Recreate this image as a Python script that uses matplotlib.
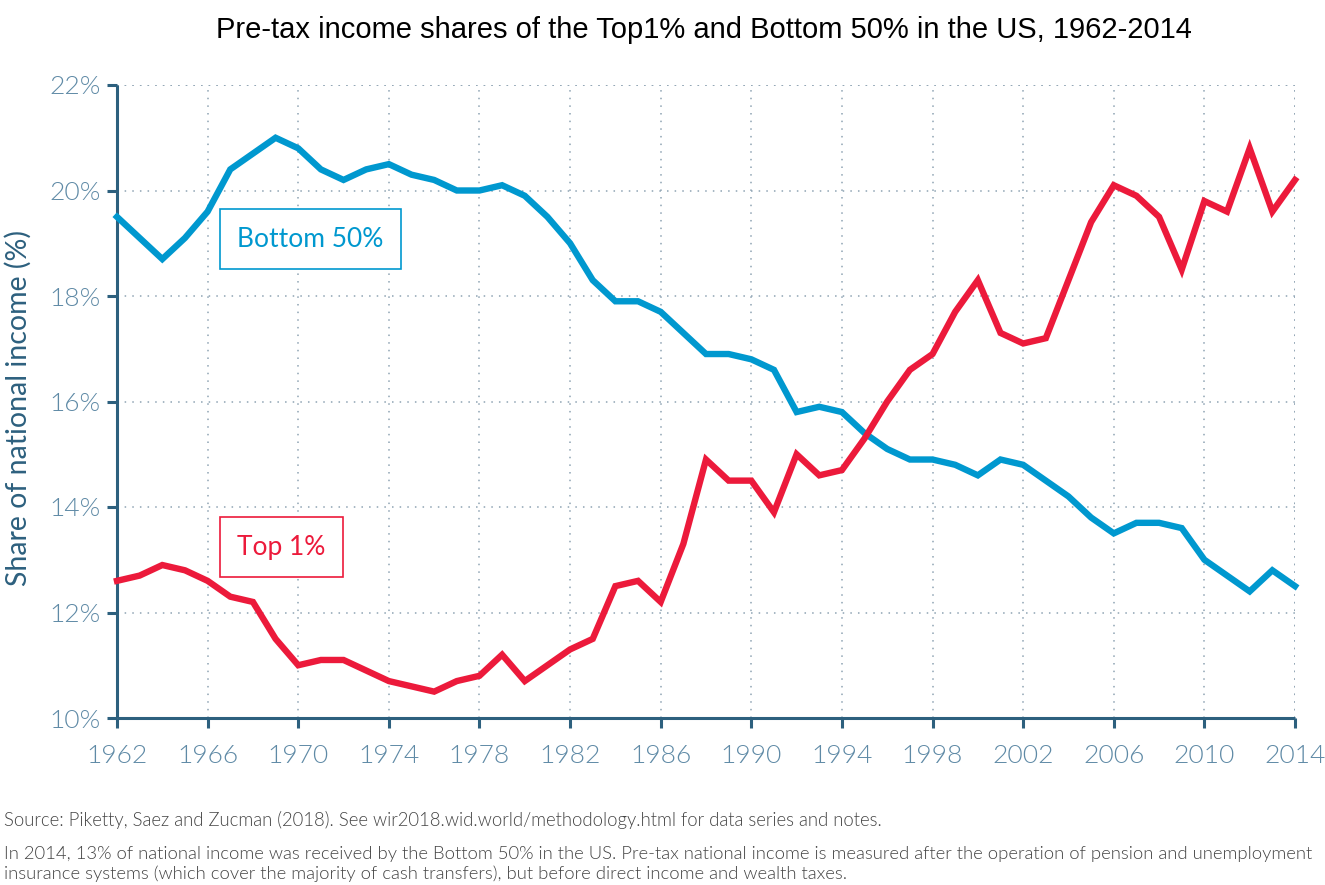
import matplotlib
matplotlib.use("Agg")
import matplotlib.pyplot as plt
from matplotlib.ticker import FuncFormatter

years = list(range(1962, 2015))
bottom50 = [19.5, 19.1, 18.7, 19.1, 19.6, 20.4, 20.7, 21.0, 20.8, 20.4,
            20.2, 20.4, 20.5, 20.3, 20.2, 20.0, 20.0, 20.1, 19.9, 19.5,
            19.0, 18.3, 17.9, 17.9, 17.7, 17.3, 16.9, 16.9, 16.8, 16.6,
            15.8, 15.9, 15.8, 15.4, 15.1, 14.9, 14.9, 14.8, 14.6, 14.9,
            14.8, 14.5, 14.2, 13.8, 13.5, 13.7, 13.7, 13.6, 13.0, 12.7,
            12.4, 12.8, 12.5]
top1 = [12.6, 12.7, 12.9, 12.8, 12.6, 12.3, 12.2, 11.5, 11.0, 11.1,
        11.1, 10.9, 10.7, 10.6, 10.5, 10.7, 10.8, 11.2, 10.7, 11.0,
        11.3, 11.5, 12.5, 12.6, 12.2, 13.3, 14.9, 14.5, 14.5, 13.9,
        15.0, 14.6, 14.7, 15.3, 16.0, 16.6, 16.9, 17.7, 18.3, 17.3,
        17.1, 17.2, 18.3, 19.4, 20.1, 19.9, 19.5, 18.5, 19.8, 19.6,
        20.8, 19.6, 20.2]
x_ticks = list(range(1962, 2015, 4))
y_ticks = list(range(10, 23, 2))

title = "Pre-tax income shares of the Top1% and Bottom 50% in the US, 1962-2014"
ylabel = "Share of national income (%)"
source = "Source: Piketty, Saez and Zucman (2018). See wir2018.wid.world/methodology.html for data series and notes."
note = ("In 2014, 13% of national income was received by the Bottom 50% in the US. Pre-tax national income is measured after the operation of pension and unemployment\n"
        "insurance systems (which cover the majority of cash transfers), but before direct income and wealth taxes.")

BLUE = "#0098cf"
RED = "#ec1a3b"
SPINE = "#2d607e"
TICKC = "#5f8aa6"
GRID = "#8ea3b3"

fig = plt.figure(figsize=(13.25, 8.85), dpi=100)
ax = fig.add_axes([117/1325, 1-718/885, (1295-117)/1325, (718-85)/885])

ax.plot(years, bottom50, color=BLUE, lw=4.6, solid_joinstyle="miter", clip_on=False, zorder=3)
ax.plot(years, top1, color=RED, lw=4.6, solid_joinstyle="miter", clip_on=False, zorder=3)

ax.set_xlim(1962, 2014)
ax.set_ylim(10, 22)
ax.set_xticks(x_ticks)
ax.set_yticks(y_ticks)
ax.yaxis.set_major_formatter(FuncFormatter(lambda v, p: f"{int(v)}%"))

for s in ["top", "right"]:
    ax.spines[s].set_visible(False)
for s in ["left", "bottom"]:
    ax.spines[s].set_color(SPINE)
    ax.spines[s].set_linewidth(2.2)
    ax.spines[s].set_capstyle("butt")

ax.tick_params(axis="both", colors=SPINE, width=2.2, length=7, direction="out",
               labelcolor=TICKC, labelsize=19)
ax.tick_params(axis="y", pad=5)
ax.tick_params(axis="x", pad=12)
for lab in ax.get_xticklabels() + ax.get_yticklabels():
    lab.set_family("Lato")
    lab.set_fontweight(300)

ax.grid(True, linestyle=(0, (1, 4)), color=GRID, lw=1.1)
ax.axhline(22, linestyle=(0, (1, 4)), color=GRID, lw=1.1, zorder=0)
ax.axvline(2014, linestyle=(0, (1, 4)), color=GRID, lw=1.1, zorder=0)
ax.set_axisbelow(True)

fig.text(18/1325, 1-408/885, ylabel, family="Lato", fontsize=20.5, color=SPINE,
         rotation=90, ha="center", va="center")

ax.text(1967.3, 19.08, "Bottom 50%", family="Lato", fontsize=19, color=BLUE,
        ha="left", va="center",
        bbox=dict(boxstyle="square,pad=0.65", fc="white", ec=BLUE, lw=1.2))
ax.text(1967.3, 13.24, "Top 1%", family="Lato", fontsize=19, color=RED,
        ha="left", va="center",
        bbox=dict(boxstyle="square,pad=0.65", fc="white", ec=RED, lw=1.2))

fig.text(704/1325, 1-30/885, title, family="Liberation Sans", fontsize=21,
         color="black", ha="center", va="center")
fig.text(4/1325, 1-820/885, source, family="Lato", fontweight=300, fontsize=13.35,
         color="#444444", ha="left", va="center")
fig.text(4/1325, 1-864/885, note, family="Lato", fontweight=300, fontsize=13.3,
         color="#444444", ha="left", va="center", linespacing=1.2)

fig.savefig("out.png", dpi=100)
